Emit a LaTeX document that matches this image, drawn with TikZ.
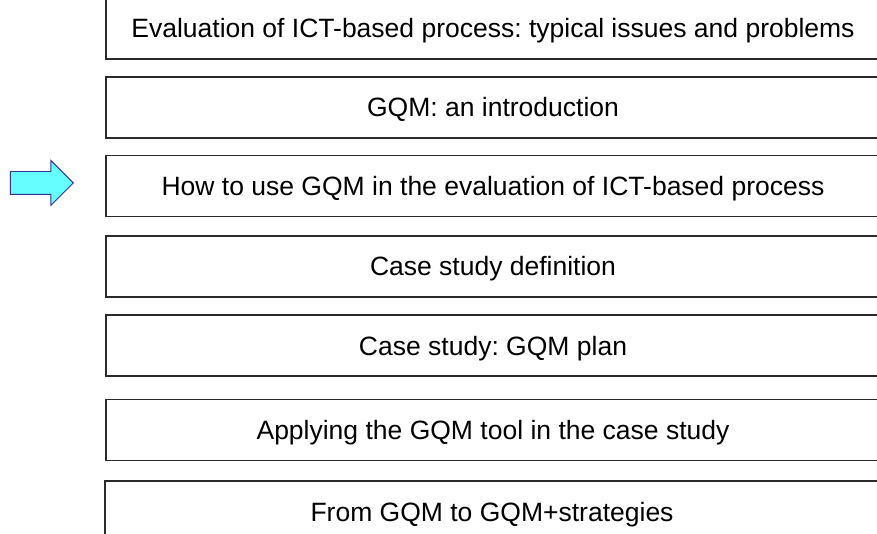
\documentclass[tikz,border=0pt]{standalone}
\usepackage{fontspec}
\setmainfont{Liberation Sans}
\usetikzlibrary{shapes.arrows}
\definecolor{ink}{HTML}{000000}
\definecolor{edge}{HTML}{2B2B2B}
\definecolor{arrowfill}{HTML}{66FFFF}
\definecolor{arrowdraw}{HTML}{333399}
\tikzset{
  topic/.style={draw=edge,fill=white,minimum width=774pt,minimum height=61pt,
    inner sep=0pt,text height=19pt,text depth=0pt,text=ink,
    font=\fontsize{26.5}{30}\selectfont\frenchspacing,line width=1.1pt},
  marker/.style={single arrow,draw=arrowdraw,fill=arrowfill,line width=0.9pt,
    inner xsep=0pt,inner ysep=11pt,minimum height=63pt,
    single arrow head extend=11pt,single arrow head indent=0pt}
}
\begin{document}
\begin{tikzpicture}[x=1pt,y=-1pt]
  \useasboundingbox (0,0) rectangle (877,534);
  \clip (0,0) rectangle (877,534);
  % agenda items
  \node[topic] (eval) at (493,28.5)  {Evaluation of ICT-based process: typical issues and problems};
  \node[topic] (intro) at (493,107.5) {GQM: an introduction};
  \node[topic] (use)  at (493,186)   {How to use GQM in the evaluation of ICT-based process};
  \node[topic] (def)  at (493,266.5) {Case study definition};
  \node[topic] (plan) at (493,345.5) {Case study: GQM plan};
  \node[topic] (tool) at (493,430)   {Applying the GQM tool in the case study};
  \node[topic] (strat) at (492,511.5) {From GQM to GQM+strategies};
  % current item marker
  \node[marker,anchor=tip] (cur) at (74,183) {};
\end{tikzpicture}
\end{document}
